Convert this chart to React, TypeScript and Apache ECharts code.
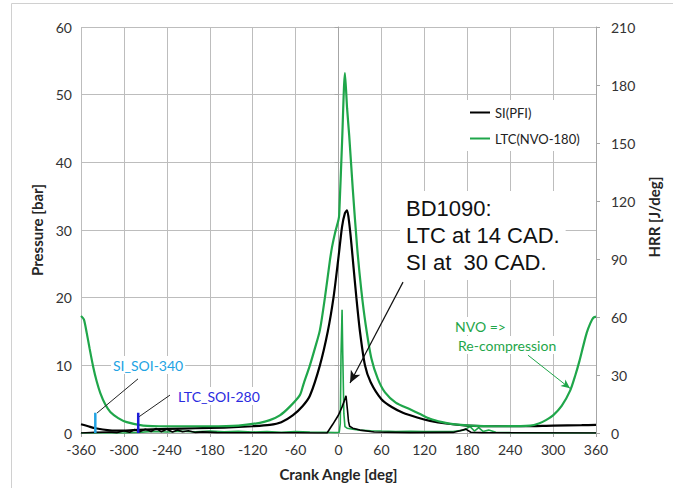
import React, { useEffect, useRef } from "react";
import * as echarts from "echarts";

// ---- Data ----
const xTicks = { min: -360, max: 360, interval: 60 };
const pressureAxis = { min: 0, max: 60, interval: 10 };
const hrrAxis = { min: 0, max: 210, interval: 30 };

// SI(PFI) cylinder pressure [bar]
const siPresAngle = [-360, -350, -340, -320, -300, -280, -240, -200, -160, -120, -96, -80, -64, -50, -40, -26, -15, -7, 0, 5, 9, 12, 15, 18, 21, 25, 30, 37, 45, 60, 75, 90, 110, 128, 150, 180, 220, 260, 300, 340, 360];
const siPresVal = [1.3, 1.0, 0.7, 0.4, 0.35, 0.45, 0.6, 0.7, 0.8, 1.0, 1.2, 1.6, 2.6, 4.0, 5.5, 10, 15, 20, 26, 30.5, 32.5, 32.9, 31, 28, 24.5, 20, 15, 10, 7.5, 5, 3.8, 3, 2.3, 1.8, 1.4, 1.1, 1.0, 1.0, 1.1, 1.15, 1.2];

// LTC(NVO-180) cylinder pressure [bar]
const ltcPresAngle = [-360, -356, -352, -348, -343, -338, -333, -326, -319, -308, -296, -273, -240, -180, -140, -110, -96, -82, -68, -54, -49, -40, -33, -26, -19, -12, -9, -5, 0, 1, 5, 9, 12, 15, 20, 26, 32, 38, 46, 55, 65, 80, 100, 114, 128, 145, 160, 184, 220, 268, 280, 290, 300, 312, 324, 331, 337, 342, 347, 352, 356, 360];
const ltcPresVal = [17.3, 16.8, 14.8, 12.5, 9.8, 7.6, 5.9, 4.2, 3.1, 2.2, 1.6, 1.1, 1.0, 1.0, 1.1, 1.5, 1.9, 2.6, 3.9, 5.6, 7.2, 10, 12.5, 15.2, 20, 25.5, 27.5, 29.5, 31.5, 32.3, 43, 53.2, 48, 43.9, 36, 27.5, 21, 16, 11, 8, 6, 4.5, 3.5, 2.8, 2.1, 1.6, 1.3, 1.1, 1.0, 1.1, 1.4, 1.9, 2.6, 4, 6.3, 8.5, 10.7, 12.8, 14.8, 16.2, 17, 17.2];

// SI(PFI) heat release rate [J/deg]
const siHrrAngle = [-360, -340, -320, -310, -300, -292, -285, -278, -270, -262, -255, -248, -240, -232, -225, -218, -210, -200, -190, -170, -120, -60, -30, -16, -8, 0, 5, 8, 10.5, 12.5, 14, 15.5, 20, 30, 50, 100, 160, 170, 178, 185, 200, 360];
const siHrrVal = [0, 0.3, 0.5, 0.2, 1.2, 0.4, 1.8, 0.6, 2, 0.8, 2.4, 0.7, 1.9, 0.5, 1.6, 0.6, 1.2, 0.3, 0.6, 0.2, 0.1, 0.1, 0, 0, 4.5, 9.3, 13.5, 16.5, 19.2, 12, 6, 3.5, 2.5, 1.5, 0.5, 0.2, 0.3, 1.2, 2, 0.4, 0.2, 0];

// LTC(NVO-180) heat release rate [J/deg]
const ltcHrrAngle = [-360, -300, -280, -260, -240, -220, -200, -180, -160, -140, -120, -100, -80, -60, -40, -20, -5, 1, 2.5, 3.5, 5, 6, 7.5, 9, 12, 20, 30, 45, 60, 80, 100, 120, 140, 160, 175, 184, 190, 196, 202, 210, 220, 240, 300, 360];
const ltcHrrVal = [0, 0, 0.3, 0.8, 0.5, 0.9, 0.6, 1, 0.6, 0.9, 0.5, 0.8, 0.4, 0.7, 0.5, 0.4, 0.2, 0.3, 5, 40, 63.8, 40, 10, 3.3, 2.5, 2, 1.5, 1.2, 1, 0.8, 0.9, 0.7, 0.8, 0.8, 1.5, 3.3, 1, 2.8, 0.8, 1.5, 0.4, 0.2, 0, 0];

// Start-of-injection markers
const soiAngles = [-340, -280];
const soiHeight = 3;

const seriesNames = ["SI(PFI)", "LTC(NVO-180)"];

const zip = (a: number[], b: number[]) => a.map((x, i) => [x, b[i]]);

const GREEN = "#1fa64a";
const BLACK = "#000000";
const CYAN = "#22a3e3";
const BLUE = "#1c1cd8";
const GRID = "#bdbdbd";
const AXIS = "#a6a6a6";

export default function App() {
  const ref = useRef<HTMLDivElement>(null);
  useEffect(() => {
    const chart = echarts.init(ref.current!, null, { renderer: "svg" });
    const leader = { color: "#222", width: 1, type: "solid" as const };
    const option: any = {
      animation: false,
      backgroundColor: "#fff",
      textStyle: { fontFamily: "Lato" },
      grid: { left: 81, right: 77, top: 27, bottom: 55 },
      legend: {
        show: true,
        orient: "vertical",
        left: 466,
        top: 100,
        data: seriesNames,
        icon: "rect",
        itemWidth: 20,
        itemHeight: 2,
        itemGap: 13,
        backgroundColor: "#fff",
        padding: [6, 8, 6, 4],
        textStyle: { fontSize: 13, color: "#222", fontFamily: "Lato" },
      },
      xAxis: {
        type: "value",
        min: xTicks.min,
        max: xTicks.max,
        interval: xTicks.interval,
        name: "Crank Angle [deg]",
        nameLocation: "middle",
        nameGap: 33,
        nameTextStyle: { fontWeight: "bold", fontSize: 15, color: "#262626" },
        axisLine: { onZero: false, lineStyle: { color: AXIS } },
        axisTick: { show: true, length: 4, lineStyle: { color: AXIS } },
        axisLabel: { fontSize: 14, color: "#333", margin: 9 },
        splitLine: { show: true, lineStyle: { color: GRID } },
      },
      yAxis: [
        {
          type: "value",
          position: "left",
          min: pressureAxis.min,
          max: pressureAxis.max,
          interval: pressureAxis.interval,
          name: "Pressure [bar]",
          nameLocation: "middle",
          nameRotate: 90,
          nameGap: 36,
          nameTextStyle: { fontWeight: "bold", fontSize: 15, color: "#262626" },
          axisLine: { show: true, lineStyle: { color: AXIS } },
          axisTick: { show: true, length: 4, lineStyle: { color: AXIS } },
          axisLabel: { fontSize: 14, color: "#333", margin: 9 },
          splitLine: { show: true, lineStyle: { color: GRID } },
        },
        {
          type: "value",
          position: "right",
          min: hrrAxis.min,
          max: hrrAxis.max,
          interval: hrrAxis.interval,
          name: "HRR [J/deg]",
          nameLocation: "middle",
          nameRotate: 90,
          nameGap: 46,
          nameTextStyle: { fontWeight: "bold", fontSize: 15, color: "#262626", padding: [0, 0, 0, 26] },
          axisLine: { show: true, lineStyle: { color: AXIS } },
          axisTick: { show: true, length: 4, lineStyle: { color: AXIS } },
          axisLabel: { fontSize: 14, color: "#333", margin: 15 },
          splitLine: { show: false },
        },
      ],
      series: [
        {
          name: seriesNames[1],
          type: "line",
          yAxisIndex: 1,
          data: zip(ltcHrrAngle, ltcHrrVal),
          showSymbol: false,
          symbol: "none",
          lineStyle: { color: GREEN, width: 1.6 },
          itemStyle: { color: GREEN },
          z: 2,
        },
        {
          name: seriesNames[0],
          type: "line",
          yAxisIndex: 1,
          data: zip(siHrrAngle, siHrrVal),
          showSymbol: false,
          symbol: "none",
          lineStyle: { color: BLACK, width: 1.6 },
          itemStyle: { color: BLACK },
          z: 2,
        },
        {
          name: seriesNames[0],
          type: "line",
          yAxisIndex: 0,
          data: zip(siPresAngle, siPresVal),
          smooth: 0.25,
          showSymbol: false,
          symbol: "none",
          lineStyle: { color: BLACK, width: 2.2 },
          itemStyle: { color: BLACK },
          z: 3,
        },
        {
          name: seriesNames[1],
          type: "line",
          yAxisIndex: 0,
          data: zip(ltcPresAngle, ltcPresVal),
          smooth: 0.25,
          showSymbol: false,
          symbol: "none",
          lineStyle: { color: GREEN, width: 2.2 },
          itemStyle: { color: GREEN },
          z: 4,
        },
        {
          name: "SI_SOI",
          type: "line",
          yAxisIndex: 0,
          data: [[soiAngles[0], 0], [soiAngles[0], soiHeight]],
          showSymbol: false,
          symbol: "none",
          lineStyle: { color: CYAN, width: 2.5 },
          z: 5,
          markLine: {
            silent: true,
            symbol: ["none", "none"],
            label: { show: false },
            lineStyle: leader,
            data: [
              [{ coord: [-280.3, 8.0] }, { coord: [-337.6, 2.95] }],
              [{ coord: [-235.6, 5.6] }, { coord: [-278.9, 2.4] }],
              [
                { coord: [90.2, 22.3], symbol: "none", lineStyle: { color: "#111", width: 1.2, type: "solid" } },
                { coord: [16.1, 7.4], symbol: "arrow", symbolSize: [8, 12] },
              ],
              [
                { coord: [264.9, 11.5], symbol: "none", lineStyle: { color: GREEN, width: 1, type: "solid" } },
                { coord: [323.6, 6.6], symbol: "arrow", symbolSize: [6, 9] },
              ],
            ],
          },
        },
        {
          name: "LTC_SOI",
          type: "line",
          yAxisIndex: 0,
          data: [[soiAngles[1], 0], [soiAngles[1], soiHeight]],
          showSymbol: false,
          symbol: "none",
          lineStyle: { color: BLUE, width: 2.5 },
          z: 5,
        },
      ],
      graphic: [
        { type: "line", shape: { x1: 11.5, y1: 3.5, x2: 11.5, y2: 488 }, style: { stroke: "#d0d0d0", lineWidth: 1 } },
        { type: "line", shape: { x1: 11.5, y1: 3.5, x2: 673, y2: 3.5 }, style: { stroke: "#d0d0d0", lineWidth: 1 } },
        {
          type: "text",
          x: 400,
          y: 191,
          z: 10,
          style: {
            text: "BD1090:\nLTC at 14 CAD.\nSI at  30 CAD.",
            fontFamily: "Liberation Sans",
            fontSize: 22,
            lineHeight: 27,
            fill: "#111",
            backgroundColor: "#fff",
            padding: [4, 6, 4, 6],
          },
        },
        {
          type: "text",
          x: 111,
          y: 365,
          z: 10,
          style: { text: "SI_SOI-340", fontSize: 14, fontFamily: "Lato", fill: CYAN, verticalAlign: "middle", backgroundColor: "#fff", padding: [2, 2] },
        },
        {
          type: "text",
          x: 176,
          y: 396,
          z: 10,
          style: { text: "LTC_SOI-280", fontSize: 14, fontFamily: "Lato", fill: "#2b2be0", verticalAlign: "middle", backgroundColor: "#fff", padding: [2, 2] },
        },
        {
          type: "text",
          x: 453,
          y: 326,
          z: 10,
          style: { text: "NVO =>", fontSize: 14, fontFamily: "Lato", fill: GREEN, verticalAlign: "middle", backgroundColor: "#fff", padding: [2, 2] },
        },
        {
          type: "text",
          x: 456,
          y: 345,
          z: 10,
          style: { text: "Re-compression", fontSize: 14, fontFamily: "Lato", fill: GREEN, verticalAlign: "middle", backgroundColor: "#fff", padding: [2, 2] },
        },
      ],
    };
    chart.setOption(option);
    return () => chart.dispose();
  }, []);
  return <div ref={ref} style={{ position: "absolute", left: 0, top: 0, width: 673, height: 488 }} />;
}
